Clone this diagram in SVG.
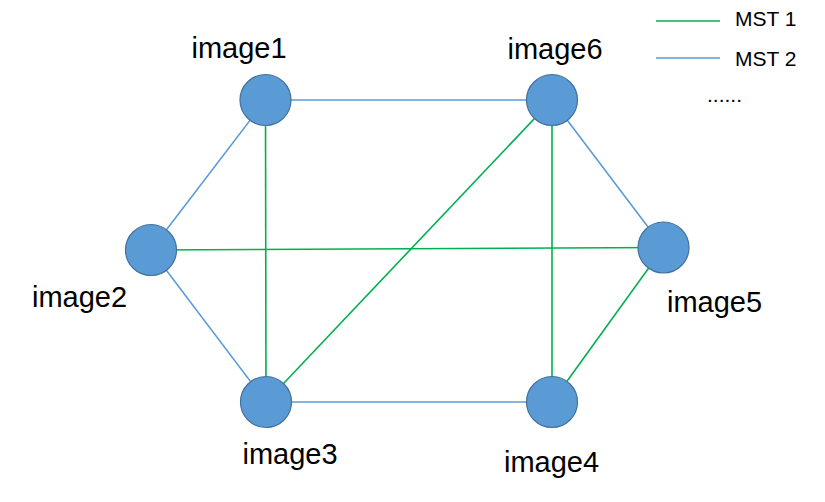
<svg xmlns="http://www.w3.org/2000/svg" width="825" height="502" viewBox="0 0 825 502">
<style>
.node{fill:#5B9BD5;stroke:#41719C;stroke-width:1.2}
.lbl{font-family:"Liberation Sans",Arial,sans-serif;font-size:29px;fill:#000}
.leg{font-family:"Liberation Sans",Arial,sans-serif;font-size:21px;fill:#000}
.g{stroke:#00B050;stroke-width:1.6;fill:none}
.b{stroke:#5B9BD5;stroke-width:1.6;fill:none}
</style>
<rect width="825" height="502" fill="#fff"/>
<g id="connectors">
<line class="b" x1="265.5" y1="100" x2="552" y2="100"/>
<line class="b" x1="265.5" y1="100" x2="151" y2="250"/>
<line class="b" x1="151" y1="250" x2="266" y2="402"/>
<line class="b" x1="266" y1="402" x2="552" y2="402"/>
<line class="b" x1="552" y1="100" x2="663.5" y2="247.5"/>
<line class="g" x1="265.5" y1="100" x2="266" y2="402"/>
<line class="g" x1="151" y1="250" x2="663.5" y2="247.5"/>
<line class="g" x1="552" y1="100" x2="266" y2="402"/>
<line class="g" x1="552" y1="100" x2="552" y2="402"/>
<line class="g" x1="552" y1="402" x2="663.5" y2="247.5"/>
</g>
<g id="image1"><circle class="node" cx="265.5" cy="100" r="25.5"/><text class="lbl" x="239" y="58" text-anchor="middle">image1</text></g>
<g id="image6"><circle class="node" cx="552" cy="100" r="25.5"/><text class="lbl" x="555" y="59" text-anchor="middle">image6</text></g>
<g id="image2"><circle class="node" cx="151" cy="250" r="25.5"/><text class="lbl" x="79.5" y="307" text-anchor="middle">image2</text></g>
<g id="image5"><circle class="node" cx="663.5" cy="247.5" r="25.5"/><text class="lbl" x="714.5" y="312" text-anchor="middle">image5</text></g>
<g id="image3"><circle class="node" cx="266" cy="402" r="25.5"/><text class="lbl" x="290" y="464" text-anchor="middle">image3</text></g>
<g id="image4"><circle class="node" cx="552" cy="402" r="25.5"/><text class="lbl" x="551.5" y="472" text-anchor="middle">image4</text></g>
<g id="legend">
<line class="g" x1="656" y1="21" x2="720" y2="21" stroke-width="2"/>
<text class="leg" x="735" y="26">MST 1</text>
<line class="b" x1="656" y1="58" x2="720" y2="58" stroke-width="2"/>
<text class="leg" x="735" y="66">MST 2</text>
<text class="leg" x="707" y="102" font-size="14">......</text>
</g>
</svg>
